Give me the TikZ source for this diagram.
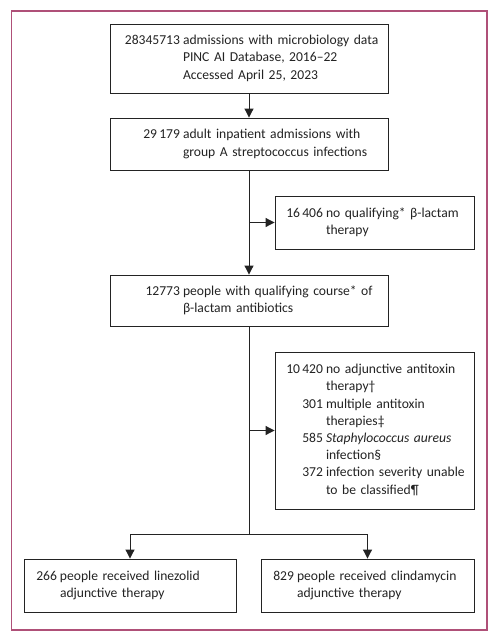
\documentclass[tikz,border=0pt]{standalone}
\usepackage{fontspec}
\setmainfont{Carlito}
\usetikzlibrary{arrows.meta}
\definecolor{framec}{RGB}{175,80,120}
\definecolor{ink}{RGB}{35,35,35}
\newcommand{\nb}[2]{\makebox[#1][r]{#2}}
\newcommand{\tb}[1]{\noindent\begin{tabular}{@{}r@{\hspace{3pt}}l@{}}#1\end{tabular}}
\begin{document}
\begin{tikzpicture}[x=1pt,y=-1pt,
  font=\fontsize{13.6}{17.2}\selectfont,
  box/.style={draw=ink, line width=0.9pt, rectangle, align=left, inner ysep=0pt, text=ink},
  mainbox/.style={box, text width=258pt, inner xsep=10pt},
  sidebox/.style={box, text width=177pt, inner xsep=11pt},
  botbox/.style={box, inner xsep=12pt},
  arr/.style={draw=ink, line width=1pt, -{Triangle[length=9pt,width=9pt]}},
  ln/.style={draw=ink, line width=1pt}]
\useasboundingbox[fill=white] (0,0) rectangle (500,640);
\draw[framec, line width=1.4pt] (11.5,11) rectangle (487,630);

\node[mainbox, minimum height=69pt] (b1) at (249,58.5)
  {\tb{\nb{60pt}{28345713} & admissions with microbiology data\\
       & PINC AI Database, 2016–22\\
       & Accessed April 25, 2023}};
\node[mainbox, minimum height=52pt] (b2) at (249,144)
  {\tb{\nb{60pt}{29\,179} & adult inpatient admissions with\\
       & group A streptococcus infections}};
\node[sidebox, minimum height=53pt] (b3) at (374.5,222.5)
  {\tb{\nb{37pt}{16\,406} & no qualifying* β-lactam\\
       & therapy}};
\node[mainbox, minimum height=51pt] (b4) at (249,300.5)
  {\tb{\nb{60pt}{12773} & people with qualifying course* of\\
       & β-lactam antibiotics}};
\node[sidebox, minimum height=157pt] (b5) at (374.5,430.5)
  {\tb{\nb{37pt}{10\,420} & no adjunctive antitoxin\\
       & therapy†\\
       301 & multiple antitoxin\\
       & therapies‡\\
       585 & \textit{Staphylococcus aureus}\\
       & infection§\\
       372 & infection severity unable\\
       & to be classified¶}};
\node[botbox, text width=188pt, minimum height=53pt] (b6) at (130,585.5)
  {\tb{\nb{21pt}{266} & people received linezolid\\
       & adjunctive therapy}};
\node[botbox, text width=189pt, minimum height=53pt] (b7) at (367.5,585.5)
  {\tb{\nb{21pt}{829} & people received clindamycin\\
       & adjunctive therapy}};

\coordinate (j1) at (249,222.5);
\coordinate (j2) at (249,430.5);
\coordinate (j3) at (249,534);

\draw[arr] (b1.south) -- (b2.north);
\draw[arr] (b2.south) -- (b4.north);
\draw[arr] (j1) -- (b3.west);
\draw[ln] (b4.south) -- (j3);
\draw[arr] (j2) -- (b5.west);
\draw[arr] (j3) -| (b6.north);
\draw[arr] (j3) -| (b7.north);
\end{tikzpicture}
\end{document}
